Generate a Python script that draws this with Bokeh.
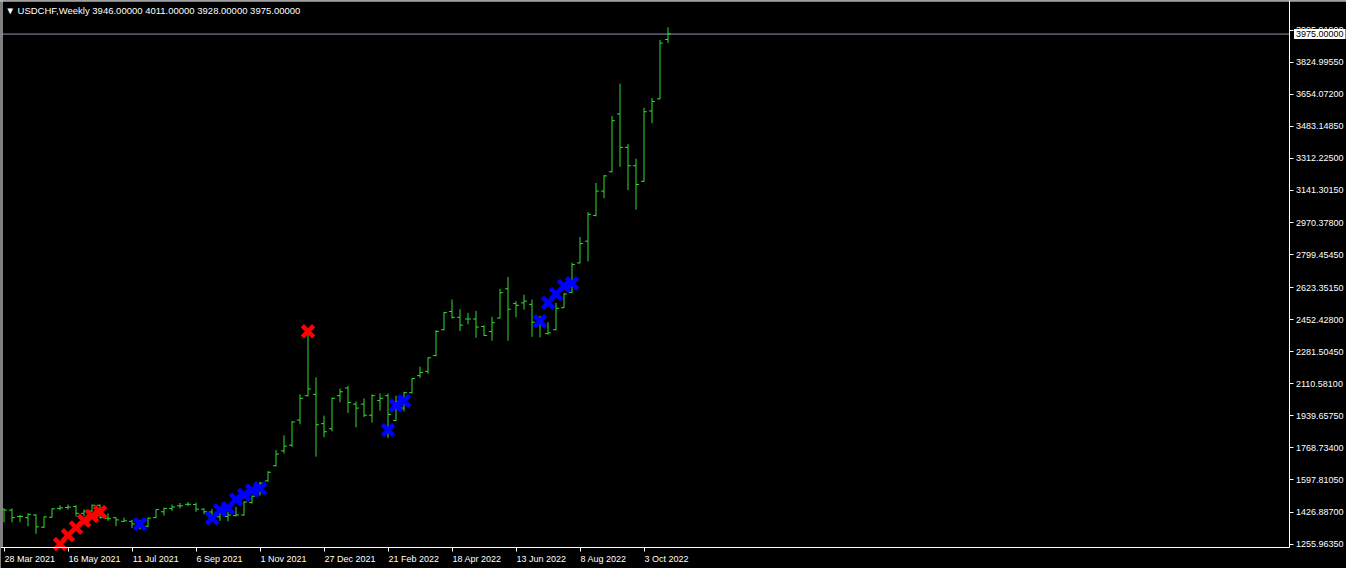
import numpy as np
from bokeh.plotting import figure
from bokeh.models import Range1d, FixedTicker, Span, Label
from bokeh.embed import file_html
from bokeh.resources import INLINE

# ---- data (weekly OHLC) ----
opens = [1442, 1437, 1403, 1397, 1411, 1346, 1399, 1446, 1451, 1456,
         1420, 1432, 1463, 1394, 1397, 1377, 1377, 1365, 1351, 1397,
         1428, 1446, 1460, 1468, 1467, 1442, 1427, 1401, 1403, 1408,
         1411, 1477, 1536, 1593, 1674, 1753, 1783, 1917, 2047, 2054,
         1898, 1871, 2047, 2088, 2002, 2002, 1943, 2021, 2047, 1915,
         1981, 2063, 2154, 2177, 2261, 2399, 2496, 2465, 2456, 2456,
         2416, 2389, 2461, 2617, 2539, 2542, 2534, 2430, 2378, 2399,
         2516, 2598, 2755, 2871, 3008, 3138, 3241, 3549, 3371, 3273,
         3190, 3565, 3630, 3946]
highs = [1446, 1446, 1411, 1420, 1415, 1403, 1446, 1463, 1467, 1463,
         1441, 1467, 1467, 1420, 1398, 1397, 1385, 1385, 1397, 1441,
         1451, 1467, 1475, 1480, 1477, 1446, 1442, 1449, 1428, 1454,
         1484, 1515, 1588, 1645, 1757, 1835, 1912, 2054, 2380, 2145,
         1941, 2037, 2085, 2099, 2016, 2033, 2054, 2059, 2059, 2047,
         2068, 2140, 2202, 2252, 2396, 2494, 2560, 2508, 2489, 2499,
         2422, 2468, 2617, 2680, 2551, 2586, 2560, 2473, 2439, 2542,
         2594, 2757, 2893, 3026, 3181, 3224, 3539, 3711, 3389, 3311,
         3582, 3634, 3944, 4011]
lows = [1372, 1372, 1374, 1351, 1311, 1342, 1397, 1436, 1439, 1403,
        1403, 1428, 1391, 1380, 1351, 1374, 1342, 1334, 1346, 1394,
        1408, 1432, 1446, 1458, 1428, 1415, 1380, 1380, 1377, 1403,
        1408, 1472, 1515, 1588, 1670, 1739, 1774, 1895, 2043, 1722,
        1826, 1857, 2012, 1955, 1878, 1933, 1904, 1967, 1822, 1912,
        1964, 2059, 2142, 2164, 2257, 2396, 2459, 2392, 2427, 2356,
        2365, 2340, 2459, 2340, 2465, 2506, 2361, 2358, 2373, 2396,
        2515, 2594, 2752, 2763, 3003, 3100, 3238, 3267, 3143, 3039,
        3187, 3500, 3627, 3928]
closes = [1437, 1397, 1403, 1415, 1348, 1401, 1444, 1449, 1453, 1420,
          1432, 1463, 1397, 1391, 1385, 1380, 1363, 1360, 1394, 1440,
          1446, 1454, 1460, 1468, 1442, 1428, 1391, 1432, 1411, 1411,
          1480, 1511, 1581, 1639, 1736, 1778, 1907, 2033, 2083, 1892,
          1855, 2033, 2068, 2011, 1981, 1943, 2047, 2033, 1947, 2016,
          2063, 2138, 2171, 2249, 2390, 2490, 2465, 2423, 2456, 2413,
          2368, 2436, 2596, 2508, 2529, 2551, 2439, 2434, 2382, 2513,
          2589, 2746, 2858, 3014, 3138, 3219, 3513, 3371, 3273, 3173,
          3561, 3616, 3927, 3975]

red_idx = [7, 8, 9, 10, 11, 12, 38]
red_price = [1256, 1303, 1344, 1380, 1406, 1427, 2390]
blue_idx = [17, 26, 27, 28, 29, 30, 31, 32, 48, 49, 50, 67, 68, 69, 70, 71]
blue_price = [1363, 1394, 1437, 1449, 1494, 1519, 1541, 1553, 1864, 1995,
              2019, 2444, 2542, 2589, 2632, 2646]

x_tick_idx = [0, 8, 16, 24, 32, 40, 48, 56, 64, 72, 80]
x_tick_labels = ["28 Mar 2021", "16 May 2021", "11 Jul 2021", "6 Sep 2021",
                 "1 Nov 2021", "27 Dec 2021", "21 Feb 2022", "18 Apr 2022",
                 "13 Jun 2022", "8 Aug 2022", "3 Oct 2022"]
y_tick_vals = [1255.9635, 1426.887, 1597.8105, 1768.734, 1939.6575, 2110.581,
               2281.5045, 2452.428, 2623.3515, 2799.4545, 2970.378, 3141.3015,
               3312.225, 3483.1485, 3654.072, 3824.9955, 3995.919]
y_tick_labels = ["1255.96350", "1426.88700", "1597.81050", "1768.73400",
                 "1939.65750", "2110.58100", "2281.50450", "2452.42800",
                 "2623.35150", "2799.45450", "2970.37800", "3141.30150",
                 "3312.22500", "3483.14850", "3654.07200", "3824.99550",
                 "3995.91900"]
symbol = "USDCHF,Weekly"
last_price = 3975.0

# ---- layout / style ----
GREEN = "#32d932"
FONT = "Liberation Sans"
AX_FS = 9          # px
W, H = 1346, 568
PX_PER_BAR = 8.0
x_start = -3.5 / PX_PER_BAR
x_end = x_start + W / PX_PER_BAR
yaxis_x = x_start + 1288.5 / PX_PER_BAR          # price axis position
y_end = 4154.0
axis_price = 1240.4                               # bottom axis position
AXIS_PX = 546.5
ppy = (y_end - axis_price) / AXIS_PX
y_start = y_end - H * ppy

idx = np.arange(len(opens))

p = figure(frame_width=W, frame_height=H,
           x_range=Range1d(x_start, x_end), y_range=Range1d(y_start, y_end),
           y_axis_location="right", output_backend="svg", toolbar_location=None,
           min_border=0)
p.background_fill_color = "black"
p.border_fill_color = "black"
p.outline_line_color = None
p.xgrid.visible = False
p.ygrid.visible = False

# approximate Arial/Liberation advance widths (em) to left-align date labels
_cw = {" ": 0.278, "M": 0.833, "J": 0.5, "S": 0.667, "N": 0.722, "D": 0.722,
       "F": 0.611, "A": 0.667, "O": 0.778, "a": 0.556, "r": 0.333, "y": 0.5,
       "u": 0.556, "l": 0.222, "e": 0.556, "p": 0.556, "o": 0.556, "v": 0.5,
       "c": 0.5, "b": 0.556, "g": 0.556, "t": 0.278, "n": 0.556}
def text_w(s):
    return sum(_cw.get(ch, 0.556) for ch in s) * AX_FS

centers = [t + (0.5 + text_w(s) / 2) / PX_PER_BAR
           for t, s in zip(x_tick_idx, x_tick_labels)]

xa = p.xaxis[0]
xa.fixed_location = axis_price
xa.bounds = (x_start, yaxis_x)
xa.ticker = FixedTicker(ticks=centers, minor_ticks=x_tick_idx)
xa.major_label_overrides = dict(zip(centers, x_tick_labels))
xa.axis_line_color = "white"
xa.major_tick_line_color = None
xa.major_tick_in = 0
xa.major_tick_out = 0
xa.minor_tick_line_color = "white"
xa.minor_tick_in = 0
xa.minor_tick_out = 4
xa.major_label_standoff = 3
xa.major_label_text_color = "white"
xa.major_label_text_font = FONT
xa.major_label_text_font_size = "%dpx" % AX_FS

ya = p.yaxis[0]
ya.fixed_location = yaxis_x
ya.bounds = (axis_price, y_end)
ya.ticker = FixedTicker(ticks=y_tick_vals)
ya.major_label_overrides = dict(zip(y_tick_vals, y_tick_labels))
ya.axis_line_color = "white"
ya.major_tick_line_color = "white"
ya.major_tick_in = 0
ya.major_tick_out = 4
ya.minor_tick_line_color = None
ya.major_label_standoff = 3
ya.major_label_text_color = "white"
ya.major_label_text_font = FONT
ya.major_label_text_font_size = "%dpx" % AX_FS

# chart window borders (top and left)
p.add_layout(Span(location=y_end - 0.5 * ppy, dimension="width",
                  line_color="white", line_width=1))
p.segment(x0=[x_start + 1.5 / PX_PER_BAR], y0=[axis_price],
          x1=[x_start + 1.5 / PX_PER_BAR], y1=[y_end],
          line_color="white", line_width=1)

# current price line
p.segment(x0=[x_start], y0=[last_price], x1=[yaxis_x], y1=[last_price],
          line_color="#8a99aa", line_width=1)

# OHLC bars
p.segment(x0=idx, y0=lows, x1=idx, y1=highs, line_color=GREEN, line_width=1)
p.segment(x0=idx - 0.375, y0=opens, x1=idx, y1=opens, line_color=GREEN, line_width=1)
p.segment(x0=idx, y0=closes, x1=idx + 0.375, y1=closes, line_color=GREEN, line_width=1)

# signal crosses
p.scatter(x=red_idx, y=red_price, marker="x", size=16, line_width=4.5,
          line_color="#ff0000")
p.scatter(x=blue_idx, y=blue_price, marker="x", size=16, line_width=4.5,
          line_color="#0000ff")

# title
title_txt = "\u25BC  %s  %.5f %.5f %.5f %.5f" % (symbol, opens[-1], highs[-1],
                                                 lows[-1], closes[-1])
p.add_layout(Label(x=x_start, y=y_end, x_offset=5, y_offset=-4, text=title_txt,
                   text_align="left", text_baseline="top", text_color="white",
                   text_font=FONT, text_font_size="9.5px"))

# current price box on the price scale
p.add_layout(Label(x=yaxis_x, y=last_price, x_offset=5, text="%.5f" % last_price,
                   text_align="left", text_baseline="middle", text_color="black",
                   text_font=FONT, text_font_size="%dpx" % AX_FS,
                   background_fill_color="white", padding=2))

open("out.html", "w").write(file_html(p, INLINE))
